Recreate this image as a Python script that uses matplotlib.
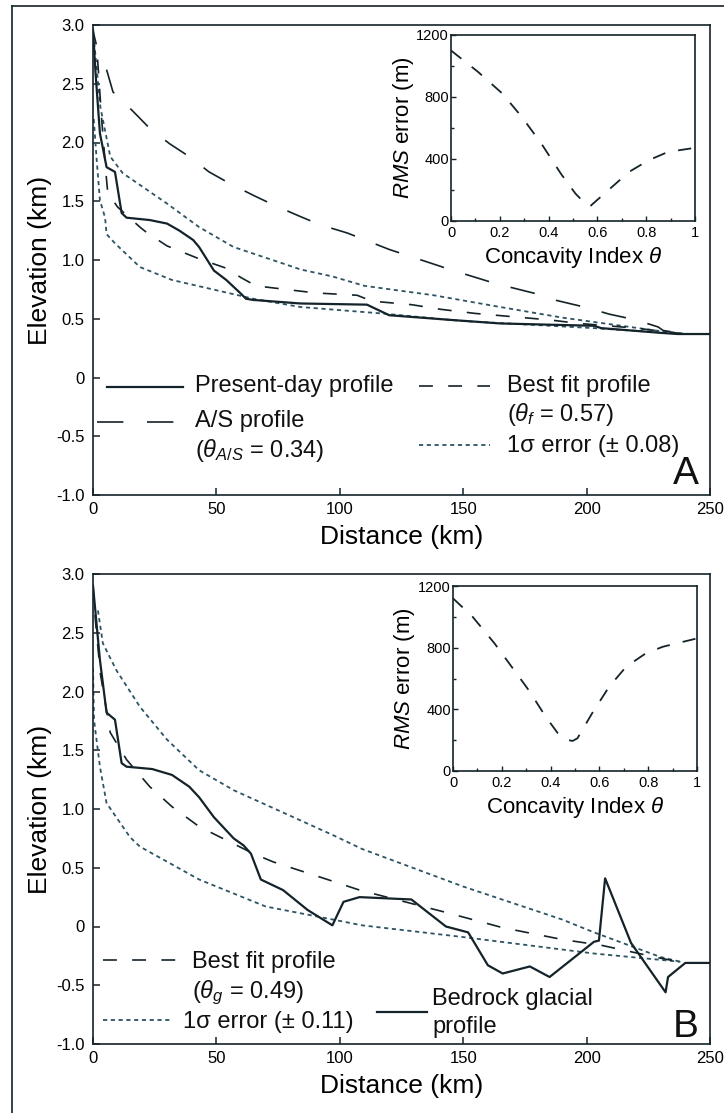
import matplotlib.pyplot as plt
from matplotlib.lines import Line2D
from matplotlib.ticker import MultipleLocator

plt.rcParams["font.family"] = ["Liberation Sans", "DejaVu Sans"]
plt.rcParams["mathtext.fontset"] = "custom"
plt.rcParams["mathtext.rm"] = "Liberation Sans"
plt.rcParams["mathtext.it"] = "Liberation Sans:italic"
plt.rcParams["lines.scale_dashes"] = False
plt.rcParams["axes.unicode_minus"] = False

# ---- panel A: present-day river profile (km, km)
a_present_x = [0, 1, 2.8, 5.5, 8.9, 11.6, 13.6, 23, 30, 35, 40.6, 43, 49, 54, 59.6, 62, 65, 84, 111,
               120, 145, 165, 203, 206, 230, 237, 250]
a_present_y = [2.96, 2.6, 2.08, 1.79, 1.75, 1.40, 1.36, 1.34, 1.31, 1.25, 1.17, 1.11, 0.91, 0.83, 0.72,
               0.67, 0.66, 0.63, 0.62, 0.53, 0.49, 0.46, 0.44, 0.42, 0.38, 0.37, 0.37]
a_as_x = [5.5, 8.1, 16, 23, 31, 39, 47, 55.5, 65, 73, 84, 92, 103, 120, 146, 163, 182, 187, 201, 209,
          220, 229, 231, 240]
a_as_y = [2.62, 2.43, 2.27, 2.12, 1.99, 1.88, 1.75, 1.65, 1.55, 1.47, 1.37, 1.30, 1.23, 1.09, 0.91,
          0.80, 0.70, 0.66, 0.59, 0.54, 0.49, 0.43, 0.40, 0.37]
a_fit_x = [0, 1.5, 3.5, 5.5, 6, 10, 19, 22, 30, 43, 54, 60, 66, 90, 107, 113, 129, 141, 155, 185, 197,
           220, 240]
a_fit_y = [2.95, 2.82, 2.2, 1.68, 1.57, 1.45, 1.28, 1.23, 1.12, 1.01, 0.93, 0.85, 0.78, 0.72, 0.70,
           0.65, 0.62, 0.58, 0.545, 0.49, 0.46, 0.42, 0.37]
a_up_x = [0.5, 3, 7, 12, 30, 43, 57, 77, 84, 97, 110, 138, 165, 190, 228, 240]
a_up_y = [2.85, 2.3, 1.88, 1.74, 1.48, 1.28, 1.11, 0.97, 0.92, 0.86, 0.78, 0.70, 0.60, 0.51, 0.40, 0.37]
a_lo_x = [0.3, 1.5, 2.8, 4.9, 5.5, 9, 19, 32, 65, 84, 117, 150, 203, 240]
a_lo_y = [2.2, 1.85, 1.51, 1.36, 1.22, 1.14, 0.94, 0.83, 0.67, 0.60, 0.545, 0.48, 0.42, 0.37]

# ---- panel A inset: RMS misfit vs concavity
a_theta = [0, 0.11, 0.21, 0.29, 0.37, 0.45, 0.51, 0.55, 0.57, 0.59, 0.66, 0.73, 0.81, 0.89, 1.0]
a_rms = [1100, 963, 823, 672, 500, 306, 177, 112, 95, 123, 220, 317, 392, 446, 472]

# ---- panel B: bedrock glacial profile
b_bed_x = [0, 2.8, 5.5, 8.9, 11.6, 13.6, 24, 32, 39, 43, 49, 57, 61, 64, 68, 77, 87, 97, 101.5, 108,
           129, 143, 152, 160, 166, 177, 185, 203, 205, 207.5, 218, 232, 233, 240, 250]
b_bed_y = [2.9, 2.27, 1.82, 1.76, 1.39, 1.36, 1.34, 1.29, 1.19, 1.10, 0.93, 0.75, 0.69, 0.62, 0.40,
           0.31, 0.14, 0.01, 0.21, 0.25, 0.23, 0.0, -0.05, -0.33, -0.40, -0.34, -0.43, -0.13, -0.12,
           0.41, -0.14, -0.56, -0.43, -0.31, -0.31]
b_fit_x = [0, 1, 3, 7, 13.6, 23, 32, 43, 65, 73, 95, 108, 143, 166, 190, 206, 230, 240]
b_fit_y = [2.9, 2.6, 2.15, 1.65, 1.42, 1.19, 1.02, 0.85, 0.62, 0.55, 0.40, 0.31, 0.12, -0.01, -0.11,
           -0.16, -0.27, -0.31]
b_up_x = [2, 4, 9.5, 19, 30, 43, 57, 77, 97, 109, 150, 190, 203, 230, 238]
b_up_y = [2.69, 2.41, 2.18, 1.87, 1.59, 1.33, 1.16, 0.97, 0.78, 0.66, 0.34, 0.06, -0.05, -0.26, -0.30]
b_lo_x = [0, 0.4, 2.8, 5.5, 15, 19, 43, 70, 97, 109, 150, 203, 238]
b_lo_y = [2.2, 1.76, 1.36, 1.05, 0.76, 0.68, 0.40, 0.17, 0.06, 0.01, -0.09, -0.23, -0.30]

# ---- panel B inset
b_theta = [0, 0.08, 0.17, 0.24, 0.31, 0.38, 0.43, 0.47, 0.49, 0.51, 0.57, 0.64, 0.71, 0.79, 0.86, 1.0]
b_rms = [1120, 1001, 828, 677, 525, 352, 244, 201, 195, 212, 374, 547, 677, 763, 806, 860]

y_ticks = [3.0, 2.5, 2.0, 1.5, 1.0, 0.5, 0, -0.5, -1.0]
y_labels = ["3.0", "2.5", "2.0", "1.5", "1.0", "0.5", "0", "-0.5", "-1.0"]
x_ticks = [0, 50, 100, 150, 200, 250]
in_x_ticks = [0, 0.2, 0.4, 0.6, 0.8, 1.0]
in_x_labels = ["0", "0.2", "0.4", "0.6", "0.8", "1"]
in_y_ticks = [0, 400, 800, 1200]

INK = "#14232a"
DOT = "#2c5462"
W, H = 724, 1113

solid = dict(color=INK, lw=1.6)
fit = dict(color=INK, lw=1.2, dashes=(10, 11))
asp = dict(color=INK, lw=1.2, dashes=(18, 16))
dotted = dict(color=DOT, lw=1.3, dashes=(3, 2.6))
rms = dict(color=INK, lw=1.3, dashes=(9.5, 9.5))


def fx(x):
    return x / W


def fy(y):
    return 1 - y / H


def main_axes(fig, top):
    ax = fig.add_axes([fx(93), fy(top + 470), 617 / W, 470 / H])
    ax.set_xlim(0, 250)
    ax.set_ylim(-1, 3)
    ax.set_xticks(x_ticks)
    ax.set_yticks(y_ticks)
    ax.set_yticklabels(y_labels)
    ax.tick_params(direction="in", length=5, width=1.1, labelsize=12, color=INK)
    ax.tick_params(axis="y", pad=6)
    ax.tick_params(axis="x", pad=5)
    for s in ax.spines.values():
        s.set_linewidth(1.2)
        s.set_color(INK)
    ax.set_xlabel("Distance (km)", fontsize=19)
    ax.xaxis.label.set_va("center")
    ax.xaxis.set_label_coords(0.5, -42 / 470)
    ax.set_ylabel("Elevation (km)", fontsize=19)
    ax.yaxis.label.set_va("center")
    ax.yaxis.set_label_coords(-53 / 617, 0.5)
    return ax


def inset_axes(fig, left, top, height, theta, vals, lab_dx):
    ax = fig.add_axes([fx(left), fy(top + height), 244 / W, height / H])
    ax.plot(theta, vals, **rms)
    ax.set_xlim(0, 1)
    ax.set_ylim(0, 1200)
    ax.set_xticks(in_x_ticks)
    ax.set_xticklabels(in_x_labels)
    ax.set_yticks(in_y_ticks)
    ax.xaxis.set_minor_locator(MultipleLocator(0.1))
    ax.yaxis.set_minor_locator(MultipleLocator(200))
    ax.tick_params(which="both", direction="in", labelsize=10.5, color=INK, width=1)
    ax.tick_params(which="major", length=3.5)
    ax.tick_params(which="minor", length=2.5)
    ax.tick_params(axis="y", pad=1.5)
    ax.tick_params(axis="x", pad=3.5)
    for s in ax.spines.values():
        s.set_linewidth(1.2)
        s.set_color(INK)
    ax.set_xlabel(r"Concavity Index $\theta$", fontsize=16)
    ax.xaxis.label.set_va("center")
    ax.xaxis.set_label_coords(0.5, -36 / height)
    ax.set_ylabel(r"$RMS$ error (m)", fontsize=16)
    ax.yaxis.label.set_va("center")
    ax.yaxis.set_label_coords(lab_dx, 0.5)
    return ax


def handle(fig, x0, x1, y, style):
    fig.add_artist(Line2D([fx(x0), fx(x1)], [fy(y), fy(y)], transform=fig.transFigure, **style))


def label(fig, x, y, s, size=17):
    fig.text(fx(x), fy(y), s, fontsize=size, va="baseline", ha="left", color="#111")


fig = plt.figure(figsize=(W / 100, H / 100), dpi=100)

# outer frame (left and top edges only, as cropped in the source)
fig.add_artist(Line2D([fx(12), fx(12)], [0, fy(6)], transform=fig.transFigure, color=INK, lw=1.2))
fig.add_artist(Line2D([fx(12), 1], [fy(6), fy(6)], transform=fig.transFigure, color=INK, lw=1.2))

# ---- panel A
axa = main_axes(fig, 25)
axa.plot(a_up_x, a_up_y, **dotted)
axa.plot(a_lo_x, a_lo_y, **dotted)
axa.plot(a_as_x, a_as_y, **asp)
axa.plot(a_fit_x, a_fit_y, **fit)
axa.plot(a_present_x, a_present_y, **solid)

handle(fig, 107, 183, 387, solid)
label(fig, 195, 392, "Present-day profile")
handle(fig, 97, 183, 422, dict(asp, dashes=(19, 17)))
label(fig, 195, 427, "A/S profile")
label(fig, 195, 457, r"($\theta_{A/S}$ = 0.34)")
handle(fig, 419, 490, 386, fit)
label(fig, 507, 392, "Best fit profile")
label(fig, 507, 421, r"($\theta_f$ = 0.57)")
handle(fig, 419, 490, 445, dotted)
label(fig, 507, 452, "1σ error (± 0.08)")
label(fig, 673, 484, "A", size=28)

inset_axes(fig, 451, 35, 186, a_theta, a_rms, -47 / 244)

# ---- panel B
axb = main_axes(fig, 574)
axb.plot(b_up_x, b_up_y, **dotted)
axb.plot(b_lo_x, b_lo_y, **dotted)
axb.plot(b_fit_x, b_fit_y, **fit)
axb.plot(b_bed_x, b_bed_y, **solid)

handle(fig, 103, 180, 960, fit)
label(fig, 192, 968, "Best fit profile")
label(fig, 192, 998, r"($\theta_g$ = 0.49)")
handle(fig, 103, 173, 1020, dotted)
label(fig, 183, 1028, "1σ error (± 0.11)")
handle(fig, 377, 427, 1012, solid)
label(fig, 432, 1005, "Bedrock glacial")
label(fig, 432, 1033, "profile")
label(fig, 673, 1037, "B", size=28)

inset_axes(fig, 453, 586, 185, b_theta, b_rms, -49 / 244)

fig.savefig("out.png", dpi=100, facecolor="white")
